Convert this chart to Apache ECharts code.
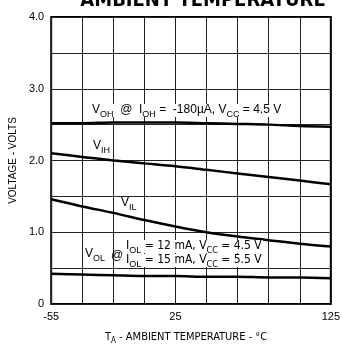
<!DOCTYPE html>
<html>
<head>
<meta charset="utf-8">
<script src="https://cdn.jsdelivr.net/npm/echarts@6/dist/echarts.min.js"></script>
<style>
  html, body { margin: 0; padding: 0; background: #fff; }
  #chart { width: 343px; height: 348px; }
</style>
</head>
<body>
<div id="chart"></div>
<script>
// temperatures (°C) read every 20 degrees
var temps = ['-55', '-35', '-15', '5', '25', '45', '65', '85', '105', '125'];
// voltages
var vOH = [2.52, 2.52, 2.53, 2.53, 2.53, 2.52, 2.51, 2.50, 2.48, 2.47];
var vIH = [2.10, 2.05, 2.00, 1.96, 1.92, 1.87, 1.82, 1.77, 1.72, 1.67];
var vIL = [1.46, 1.36, 1.27, 1.17, 1.08, 1.00, 0.94, 0.89, 0.84, 0.80];
var vOL = [0.42, 0.41, 0.40, 0.39, 0.39, 0.38, 0.38, 0.37, 0.37, 0.36];
// labelled x ticks
var xTickLabels = ['-55', '25', '125'];

var font = "'Liberation Sans', Arial, sans-serif";
var narrow = "'Liberation Sans Narrow', 'DejaVu Sans Condensed', sans-serif";
var rich = {
  m: { fontSize: 12, lineHeight: 13, verticalAlign: 'top', fontFamily: font, color: '#000' },
  s: { fontSize: 9, lineHeight: 9, padding: [6, 0, 0, 0], verticalAlign: 'top', fontFamily: font, color: '#000' },
  c: { fontSize: 12, lineHeight: 13, verticalAlign: 'top', fontFamily: narrow, color: '#000' },
  cs: { fontSize: 9, lineHeight: 9, padding: [6, 0, 0, 0], verticalAlign: 'top', fontFamily: narrow, color: '#000' },
  n: { fontSize: 11, lineHeight: 12, verticalAlign: 'top', fontFamily: narrow, color: '#000' },
  ns: { fontSize: 8, lineHeight: 8, padding: [5, 0, 0, 0], verticalAlign: 'top', fontFamily: narrow, color: '#000' }
};

function lineSeries(name, data) {
  return {
    name: name,
    type: 'line',
    data: data,
    symbol: 'none',
    smooth: 0.3,
    lineStyle: { color: '#000', width: 2.5 },
    z: 3
  };
}

function note(x, y, text, bg) {
  return {
    type: 'text',
    x: x,
    y: y,
    z: 100,
    style: {
      text: text,
      rich: rich,
      fill: '#000',
      verticalAlign: 'top',
      backgroundColor: bg ? '#fff' : null,
      padding: bg ? [0, 1, 0, 1] : 0
    }
  };
}

var chart = echarts.init(document.getElementById('chart'));
var option = {
  animation: false,
  backgroundColor: '#fff',
  grid: {
    left: 48,
    right: 5,
    top: 17,
    bottom: 44,
    show: true,
    borderColor: '#000',
    borderWidth: 2
  },
  xAxis: {
    type: 'category',
    data: temps,
    boundaryGap: false,
    axisLine: { show: false },
    axisTick: { show: false },
    axisLabel: {
      interval: function (i, v) { return xTickLabels.indexOf(v) >= 0; },
      margin: 7,
      fontSize: 11,
      fontFamily: font,
      color: '#000'
    },
    splitLine: { show: true, interval: 0, lineStyle: { color: '#222', width: 1 } }
  },
  yAxis: {
    type: 'value',
    min: 0,
    max: 4,
    interval: 0.5,
    name: 'VOLTAGE - VOLTS',
    nameLocation: 'middle',
    nameGap: 30,
    nameTextStyle: { fontSize: 10, fontFamily: font, color: '#000' },
    axisLine: { show: false },
    axisTick: { show: false },
    axisLabel: {
      margin: 7,
      fontSize: 11,
      fontFamily: font,
      color: '#000',
      formatter: function (v) {
        if (v === 0) return '0';
        return v % 1 === 0 ? v.toFixed(1) : '';
      }
    },
    splitLine: { show: true, lineStyle: { color: '#222', width: 1 } }
  },
  series: [
    lineSeries('VOH', vOH),
    lineSeries('VIH', vIH),
    lineSeries('VIL', vIL),
    lineSeries('VOL', vOL)
  ],
  graphic: [
    {
      type: 'text',
      x: 203,
      y: 11,
      z: 100,
      style: {
        text: 'AMBIENT TEMPERATURE',
        align: 'center',
        verticalAlign: 'bottom',
        font: "bold 20px " + narrow,
        fill: '#000'
      }
    },
    note(91, 104, '{m|V}{s|OH}{m|  @  I}{s|OH}{m| =  -180µA, V}{s|CC}{m| = 4.5 V}', true),
    note(92, 140, '{m|V}{s|IH}', true),
    note(120, 197, '{m|V}{s|IL}', true),
    note(84, 248, '{m|V}{s|OL}', true),
    note(111, 250, '{m|@}', false),
    note(125, 240, '{m|I}{s|OL}{c| = 12 mA, V}{cs|CC}{c| = 4.5 V}', true),
    note(125, 254, '{m|I}{s|OL}{c| = 15 mA, V}{cs|CC}{c| = 5.5 V}', true),
    note(105, 332, '{n|T}{ns|A}{n| - AMBIENT TEMPERATURE - °C}', false)
  ]
};
chart.setOption(option);

window.addEventListener('resize', function () {
  chart.resize();
});
</script>
</body>
</html>
